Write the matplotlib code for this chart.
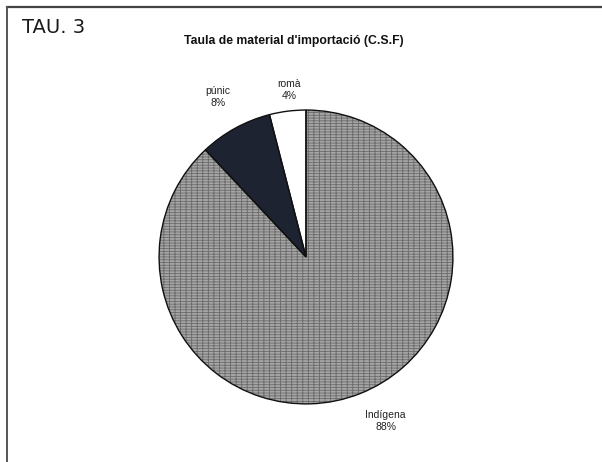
import matplotlib.pyplot as plt
from matplotlib.lines import Line2D

# dades del gràfic
categories = ['Indígena', 'púnic', 'romà']
valors = [88, 8, 4]
colors = ['#a6a6a6', '#1e2332', '#ffffff']

plt.rcParams['font.family'] = ['Liberation Sans', 'DejaVu Sans']
plt.rcParams['hatch.linewidth'] = 0.6

fig = plt.figure(figsize=(6.02, 4.62), dpi=100)
fig.patch.set_facecolor('white')

# marc del full escanejat
fig.add_artist(Line2D([0.0116, 1.0], [0.985, 0.985], color='#444444', lw=1.6))
fig.add_artist(Line2D([0.0116, 0.0116], [0.0, 0.985], color='#555555', lw=1.4))

fig.text(0.0365, 0.9286, 'TAU. 3', fontsize=14, family='DejaVu Sans', color='#1a1a1a',
         ha='left', va='baseline')
fig.text(0.4875, 0.9048, "Taula de material d'importació (C.S.F)", fontsize=8.8,
         fontweight='bold', ha='center', va='baseline', color='#111111')

ax = fig.add_axes([0.191, 0.0303, 0.6346, 0.827])

etiquetes = [f'{c}\n{v}%' for c, v in zip(categories, valors)]

# textura de la porció gran
textura, _ = ax.pie(valors, colors=colors, startangle=90, counterclock=False,
                    wedgeprops=dict(linewidth=0, edgecolor='#6a6a6a'))
textura[0].set_hatch('+++---')

# contorns i etiquetes
wedges, texts = ax.pie(valors, labels=etiquetes, startangle=90, counterclock=False,
                       labeldistance=1.2,
                       wedgeprops=dict(facecolor='none', edgecolor='#111111', linewidth=1.0),
                       textprops=dict(fontsize=7.5, color='#222222', linespacing=1.25))
# petits ajustos de posició de les etiquetes
desplac = [(0.10, 0.0), (-0.02, 0.035), (0.034, -0.054)]
for t, (dx, dy) in zip(texts, desplac):
    x, y = t.get_position()
    t.set_position((x + dx, y + dy))
    t.set_ha('center')
    t.set_va('center')

ax.set_xlim(-1.3, 1.3)
ax.set_ylim(-1.3, 1.3)
ax.set_aspect('equal')

fig.savefig('out.png', dpi=100, facecolor='white')
